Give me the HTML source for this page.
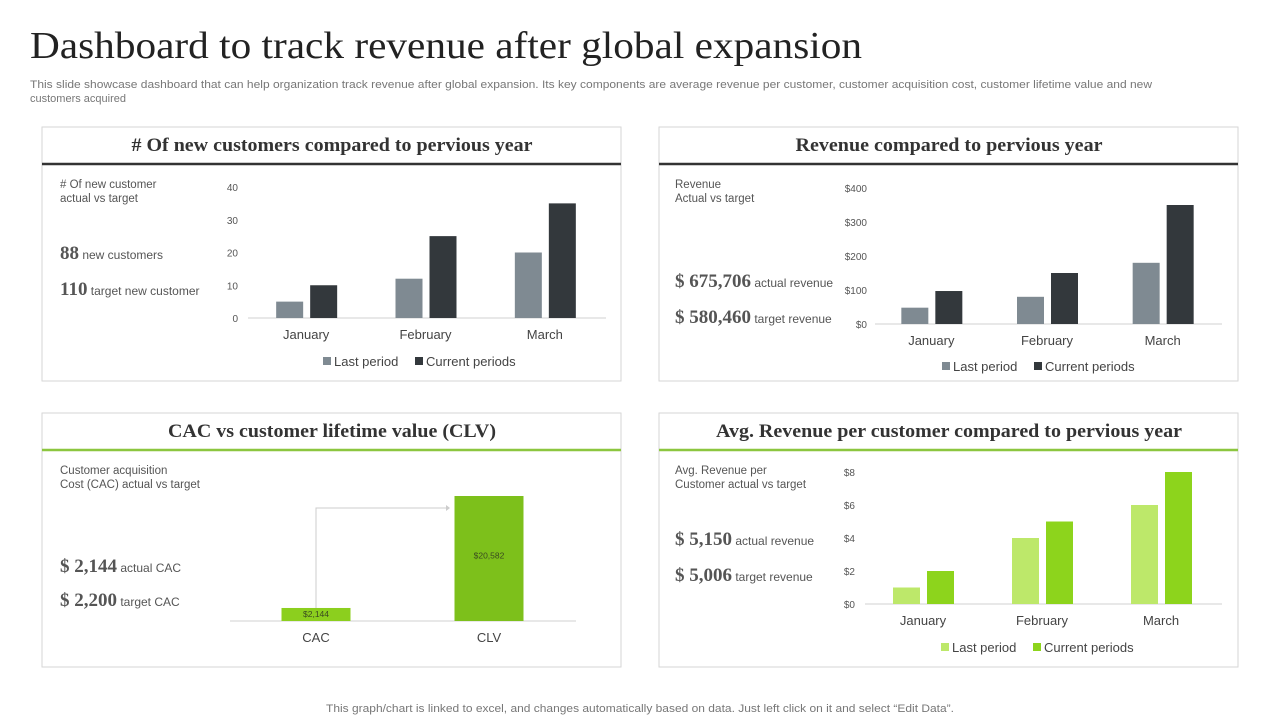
<!DOCTYPE html>
<html><head><meta charset="utf-8"><style>
body{margin:0;width:1280px;height:720px;background:#fff;overflow:hidden;font-family:"Liberation Sans",sans-serif}
svg text{font-family:"Liberation Sans",sans-serif}
</style></head><body>
<svg id="s" width="1280" height="720" xmlns="http://www.w3.org/2000/svg">
<text x="30" y="58" font-size="38" fill="#222" textLength="832" lengthAdjust="spacingAndGlyphs" style="font-family:'Liberation Serif',serif">Dashboard to track revenue after global expansion</text>
<text x="30" y="88" font-size="11" fill="#777" textLength="1122" lengthAdjust="spacingAndGlyphs">This slide showcase dashboard that can help organization track revenue after global expansion. Its key components are average revenue per customer, customer acquisition cost, customer lifetime value and new</text>
<text x="30" y="102" font-size="11" fill="#777">customers acquired</text>
<text x="640" y="712" font-size="11" fill="#777" text-anchor="middle" textLength="628" lengthAdjust="spacingAndGlyphs">This graph/chart is linked to excel,  and changes automatically based on data. Just left click on it and select “Edit Data”.</text>
<g id="g"></g>
</svg>
<script>
const months=["January","February","March"];
const custLast=[5,12,20];
const custCurr=[10,25,35];
const custTicks=[0,10,20,30,40];
const revLast=[48,80,180];
const revCurr=[97,150,350];
const revTicks=[0,100,200,300,400];
const clvCats=["CAC","CLV"];
const clvVals=[2144,20582];
const clvLabels=["$2,144","$20,582"];
const arpcLast=[1,4,6];
const arpcCurr=[2,5,8];
const arpcTicks=[0,2,4,6,8];

const NS="http://www.w3.org/2000/svg";
const G=document.getElementById('g');
function el(t,a,txt){const e=document.createElementNS(NS,t);for(const k in a)e.setAttribute(k,a[k]);if(txt!==undefined)e.textContent=txt;G.appendChild(e);return e;}

function panel(x,y,title,lineColor,name,tw){
  const r=el('rect',{x:x,y:y,width:579,height:254,fill:'#fff',stroke:'#d6d6d6'});
  
  
  const t=el('text',{x:x+290,y:y+24,'font-size':19,'font-weight':'bold','text-anchor':'middle',fill:'#333',textLength:tw,lengthAdjust:'spacingAndGlyphs',style:"font-family:'Liberation Serif',serif"},title);
  
  
  const l=el('line',{x1:x,x2:x+579,y1:y+37,y2:y+37,stroke:lineColor,'stroke-width':2.5});
  
  
}
function sideText(x,y,lines,big,name){
  lines.forEach((s,i)=>{const t=el('text',{x:x,y:y+i*14,'font-size':11.5,fill:'#555'},s);
    
    });
  big.forEach((b,i)=>{const t=el('text',{x:x,y:b[2],fill:'#555'});
    
    
    const a=document.createElementNS(NS,'tspan');a.setAttribute('font-size',19);a.setAttribute('font-weight','bold');a.setAttribute('style',"font-family:'Liberation Serif',serif");a.textContent=b[0];t.appendChild(a);
    const c=document.createElementNS(NS,'tspan');c.setAttribute('font-size',12);c.textContent=' '+b[1];t.appendChild(c);});
}
function barChart(o){
  const sy=v=>o.y0-(v-o.ticks[0])/(o.ticks[o.ticks.length-1]-o.ticks[0])*(o.y0-o.yTop);
  o.ticks.forEach(t=>{const e=el('text',{x:o.tx,y:sy(t)+4,'font-size':10,fill:'#555','text-anchor':'end'},o.fmt(t));
    
    });
  const ax=el('line',{x1:o.ax1,x2:o.ax2,y1:o.y0,y2:o.y0,stroke:'#d0d0d0'});
  
  
  const cw=(o.ax2-o.ax1)/months.length;
  months.forEach((m,i)=>{
    const cx=o.ax1+cw*(i+0.5)-1.5;
    [[o.last,o.c1,-1],[o.curr,o.c2,1]].forEach(([arr,c,s])=>{
      const x=s<0?cx-30:cx+4;
      const b=el('rect',{x:x,y:sy(arr[i]),width:27,height:o.y0-sy(arr[i]),fill:c});
      
      
    });
    const t=el('text',{x:cx,y:o.y0+21,'font-size':13,fill:'#444','text-anchor':'middle'},m);
    
    
  });
  const lx=o.legX,ly=o.legY;
  const r1=el('rect',{x:lx,y:ly-9,width:8,height:8,fill:o.c1});
  
  
  const t1=el('text',{x:lx+11,y:ly,'font-size':13,fill:'#444'},'Last period');
  
  
  const r2=el('rect',{x:lx+92,y:ly-9,width:8,height:8,fill:o.c2});
  
  
  const t2=el('text',{x:lx+103,y:ly,'font-size':13,fill:'#444'},'Current periods');
  
  
}

panel(42,127,'# Of new customers compared to pervious year','#333','customers',401);
sideText(60,188,['# Of new customer','actual vs target'],[['88','new customers',259],['110','target new customer',295]],'customers');
barChart({last:custLast,curr:custCurr,ticks:custTicks,fmt:t=>t,y0:318,yTop:187,tx:238,ax1:248,ax2:606,c1:'#7f8a92',c2:'#33383c',legX:323,legY:366});

panel(659,127,'Revenue compared to pervious year','#333','revenue',307);
sideText(675,188,['Revenue','Actual vs target'],[['$ 675,706','actual revenue',287],['$ 580,460','target revenue',323]],'revenue');
barChart({last:revLast,curr:revCurr,ticks:revTicks,fmt:t=>'$'+t,y0:324,yTop:188,tx:867,ax1:875,ax2:1222,c1:'#7f8a92',c2:'#33383c',legX:942,legY:371});

panel(42,413,'CAC vs customer lifetime value (CLV)','#8cc63f','clv',328);
sideText(60,474,['Customer acquisition','Cost (CAC)  actual vs target'],[['$ 2,144','actual CAC',572],['$ 2,200','target CAC',606]],'clv');
(function(){
  const y0=621,yTop=496,max=clvVals[1];
  const sy=v=>y0-v/max*(y0-yTop);
  const ax=el('line',{x1:230,x2:576,y1:y0,y2:y0,stroke:'#d0d0d0'});
  
  
  const cx=[316,489];
  const arrow=el('path',{d:`M${cx[0]} ${sy(clvVals[0])} V508 H446`,fill:'none',stroke:'#ccc','stroke-width':1});
  
  
  const ah=el('path',{d:'M446 505 L450 508 L446 511 Z',fill:'#ccc'});
  
  
  clvCats.forEach((c,i)=>{
    const b=el('rect',{x:cx[i]-34.5,y:sy(clvVals[i]),width:69,height:y0-sy(clvVals[i]),fill:i?'#7dc01b':'#8ccf1e'});
    
    
    const ly=i?(sy(clvVals[i])+y0)/2:y0-4;
    const v=el('text',{x:cx[i],y:ly,'font-size':8.5,fill:'#3a4a20','text-anchor':'middle'},clvLabels[i]);
    
    
    const t=el('text',{x:cx[i],y:y0+21,'font-size':13,fill:'#444','text-anchor':'middle'},c);
    
    
  });
})();

panel(659,413,'Avg. Revenue per customer compared to pervious year','#8cc63f','arpc',466);
sideText(675,474,['Avg.  Revenue per','Customer actual vs target'],[['$ 5,150','actual revenue',545],['$ 5,006','target revenue',581]],'arpc');
barChart({last:arpcLast,curr:arpcCurr,ticks:arpcTicks,fmt:t=>'$'+t,y0:604,yTop:472,tx:855,ax1:865,ax2:1222,c1:'#bde86a',c2:'#8dd41c',legX:941,legY:652});
</script>
</body></html>
